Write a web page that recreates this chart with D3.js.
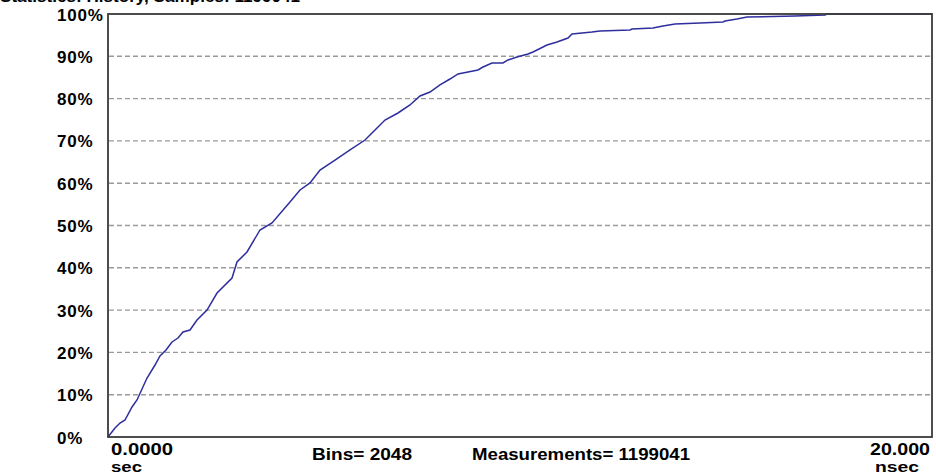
<!DOCTYPE html>
<html>
<head>
<meta charset="utf-8">
<script src="https://cdn.jsdelivr.net/npm/d3@7"></script>
<style>
  body { margin: 0; background: #fff; }
  text { font-family: "Liberation Sans", Arial, sans-serif; font-weight: bold; fill: #000; }
</style>
</head>
<body>
<div id="viz"></div>
<script>
var timeNs = [0, 0.170, 0.291, 0.413, 0.583, 0.704, 0.947, 1.141, 1.262, 1.408, 1.553, 1.699, 1.820, 1.990,
  2.160, 2.403, 2.646, 3.010, 3.131, 3.374, 3.689, 3.981, 4.417, 4.660, 4.903, 5.146, 5.510, 5.874,
  6.238, 6.481, 6.723, 7.039, 7.330, 7.573, 7.816, 8.058, 8.301, 8.495, 8.738, 8.981, 9.102, 9.320,
  9.587, 9.709, 9.927, 10.194, 10.316, 10.655, 10.898, 11.165, 11.262, 11.505, 11.748, 11.942,
  12.670, 12.718, 13.228, 13.471, 13.762, 14.369, 14.927, 14.976, 15.267, 15.510, 16.675, 17.403, 17.45, 20];
var cumPct = [0, 2.13, 3.31, 4.02, 7.09, 8.75, 13.95, 17.02, 19.15, 20.57, 22.46, 23.40, 24.82, 25.30,
  27.66, 30.02, 34.04, 37.59, 41.37, 43.74, 48.94, 50.59, 55.56, 58.39, 60.05, 63.12, 65.48, 67.85,
  70.21, 72.58, 74.94, 76.60, 78.49, 80.61, 81.56, 83.22, 84.63, 85.82, 86.29, 86.76, 87.47, 88.42,
  88.42, 89.13, 89.83, 90.54, 91.02, 92.67, 93.38, 94.33, 95.27, 95.51, 95.74, 95.98,
  96.22, 96.45, 96.69, 97.16, 97.64, 97.87, 98.11, 98.35, 98.82, 99.29, 99.53, 99.76, 100, 100];

var yTicks = [0, 10, 20, 30, 40, 50, 60, 70, 80, 90, 100];
var xMin = 0, xMax = 20;
var xMinLabel = "0.0000", xMaxLabel = "20.000";
var xMinUnit = "sec", xMaxUnit = "nsec";
var binsText = "Bins= 2048";
var measText = "Measurements= 1199041";
var titleText = "Statistics: History, Samples: 1199041";

var W = 936, H = 475;
// plot box (window.top is taken, so use own names)
var plotL = 108, plotR = 932, plotT = 14, plotB = 437;

var svg = d3.select('#viz').append('svg')
  .attr('width', W)
  .attr('height', H);

svg.append('rect').attr('width', W).attr('height', H).attr('fill', '#fff');

var x = d3.scaleLinear().domain([xMin, xMax]).range([plotL, plotR]);
var y = d3.scaleLinear().domain([0, 100]).range([plotB, plotT]);

// helper: bold label stretched to the width seen in the picture
function label(tx, ty, size, width, str) {
  return svg.append('text')
    .attr('x', tx).attr('y', ty)
    .attr('textLength', width)
    .attr('lengthAdjust', 'spacingAndGlyphs')
    .attr('style', 'font-size: ' + size + 'px')
    .text(str);
}

// title, mostly scrolled off the top
label(0, 2, 17, 300, titleText);

// dashed grid lines
svg.append('g').selectAll('line')
  .data(yTicks.filter(function(d) { return d > 0 && d < 100; }))
  .enter().append('line')
  .attr('x1', plotL + 1).attr('x2', plotR - 1)
  .attr('y1', function(d) { return y(d); })
  .attr('y2', function(d) { return y(d); })
  .attr('stroke', '#9a9a9a')
  .attr('stroke-width', 1.4)
  .attr('stroke-dasharray', '5,3');

// percent labels, left aligned
svg.append('g').selectAll('text')
  .data(yTicks)
  .enter().append('text')
  .attr('x', 57)
  .attr('y', function(d) { return y(d) + 6.5; })
  .attr('style', 'font-size: 17px; letter-spacing: 0.8px')
  .text(function(d) { return d + '%'; });

// the curve
var line = d3.line()
  .x(function(d, i) { return x(timeNs[i]); })
  .y(function(d) { return y(d); });

svg.append('path')
  .datum(cumPct)
  .attr('d', line)
  .attr('fill', 'none')
  .attr('stroke', '#2e2e9e')
  .attr('stroke-width', 1.5);

// frame
svg.append('rect')
  .attr('x', plotL).attr('y', plotT)
  .attr('width', plotR - plotL).attr('height', plotB - plotT)
  .attr('fill', 'none')
  .attr('stroke', '#3a3a3a')
  .attr('stroke-width', 1.8);

// x labels
label(111, 455, 17, 62, xMinLabel);
label(111, 472, 15, 31, xMinUnit);
label(870, 455, 17, 60, xMaxLabel);
label(875, 472, 15, 44, xMaxUnit);

label(312, 460, 17, 100, binsText);
label(472, 460, 17, 218, measText);
</script>
</body>
</html>
